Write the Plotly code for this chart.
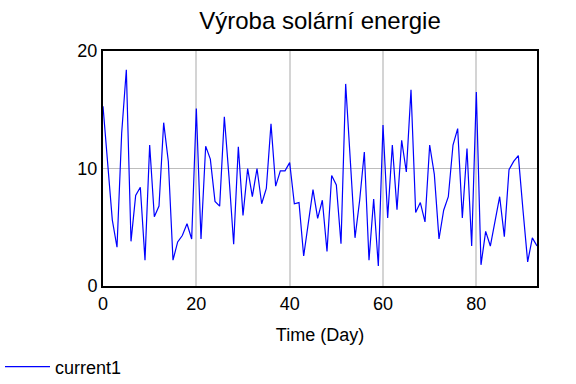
import plotly.graph_objects as go

days = list(range(0, 94))
current1 = [
    15.3, 10.5, 5.6, 3.3, 13.0, 18.4, 3.8, 7.7, 8.4, 2.2,
    12.0, 5.9, 6.8, 13.9, 10.6, 2.2, 3.75, 4.3, 5.3, 4.0,
    15.1, 4.0, 11.9, 10.8, 7.2, 6.8, 14.4, 9.3, 3.55, 11.85,
    6.0, 10.0, 7.6, 10.0, 7.0, 8.3, 13.8, 8.5, 9.8, 9.8,
    10.5, 7.0, 7.1, 2.55, 5.4, 8.2, 5.75, 7.3, 2.95, 9.4,
    8.6, 3.6, 17.2, 10.5, 4.1, 7.3, 11.4, 2.2, 7.4, 1.7,
    13.7, 5.8, 12.0, 6.5, 12.4, 9.7, 16.7, 6.25, 7.1, 5.45,
    12.0, 9.5, 4.0, 6.45, 7.6, 12.0, 13.4, 5.8, 11.7, 3.4,
    16.5, 1.8, 4.65, 3.4, 5.45, 7.6, 4.2, 9.9, 10.6, 11.1,
    6.45, 2.05, 4.1, 3.4,
]
x_ticks = [0, 20, 40, 60, 80]
y_ticks = [0, 10, 20]

FONT = "Liberation Sans, Arial, sans-serif"

fig = go.Figure()
fig.add_trace(go.Scatter(
    x=days, y=current1, mode="lines", name="current1",
    line=dict(color="#0000ff", width=1.2),
))

fig.update_layout(
    width=576, height=384,
    margin=dict(l=103, r=39, t=51, b=98),
    paper_bgcolor="white", plot_bgcolor="white",
    font=dict(family=FONT, size=18, color="black"),
    title=dict(text="Výroba solární energie", x=0.5, xref="paper",
               y=1 - 21 / 384, yref="container", yanchor="middle",
               font=dict(size=24, family=FONT, color="black")),
    showlegend=True,
    legend=dict(orientation="h", xref="container", yref="container",
                x=0.0, y=1 - 367 / 384, xanchor="left", yanchor="middle",
                itemwidth=45,
                font=dict(size=18, family=FONT), bgcolor="rgba(0,0,0,0)"),
    xaxis=dict(range=[0, 93], tickvals=x_ticks, showgrid=True,
               gridcolor="#d4d4d4", gridwidth=2, zeroline=False,
               showline=True, linecolor="black", linewidth=2, mirror=True,
               ticks="", tickfont=dict(size=18), automargin=False,
               title=dict(text="Time (Day)", standoff=16, font=dict(size=18))),
    yaxis=dict(range=[0, 20], tickvals=y_ticks, showgrid=True,
               gridcolor="#bdbdbd", gridwidth=1, zeroline=False,
               showline=True, linecolor="black", linewidth=2, mirror=True,
               ticks="", tickfont=dict(size=18), automargin=False),
)

fig.write_html("out.html", config={"displayModeBar": False},
               post_script="document.body.style.margin='0';document.body.style.padding='0';")
